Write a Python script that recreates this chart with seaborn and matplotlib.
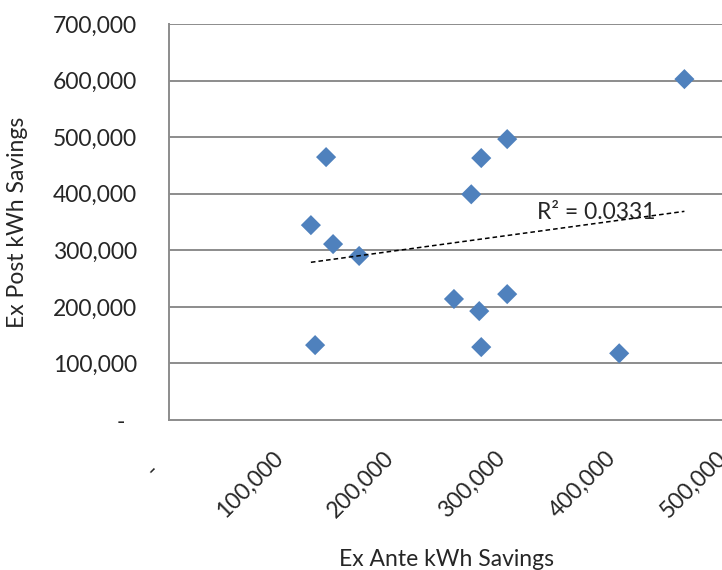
import matplotlib
matplotlib.use("Agg")
import matplotlib.pyplot as plt
import seaborn as sns
import numpy as np
import pandas as pd
from matplotlib.ticker import FuncFormatter

ex_ante = [131800, 128000, 141700, 148000, 171500, 257000, 272600, 279800,
           281600, 281600, 305000, 305000, 406000, 464800]
ex_post = [132500, 344500, 464700, 311000, 290000, 214000, 399000, 192600,
           463000, 129000, 496500, 222600, 118000, 602500]
x_ticks = [0, 100000, 200000, 300000, 400000, 500000]
y_ticks = [0, 100000, 200000, 300000, 400000, 500000, 600000, 700000]
r2_text = "R² = 0.0331"

df = pd.DataFrame({"Ex Ante kWh Savings": ex_ante, "Ex Post kWh Savings": ex_post})

sns.set_style("white")
plt.rcParams['font.family'] = ['Lato', 'DejaVu Sans']

fig = plt.figure(figsize=(7.22, 5.70), dpi=100)
ax = fig.add_axes([0.234, 0.263, 0.768, 0.695])

for yv in y_ticks[1:]:
    ax.axhline(yv, color="#8c8c8c", lw=1.4, zorder=0)

sns.scatterplot(data=df, x="Ex Ante kWh Savings", y="Ex Post kWh Savings", ax=ax,
                marker="D", s=105, color="#4F81BD", edgecolor="none", zorder=3)

coef = np.polyfit(ex_ante, ex_post, 1)
xs = np.array([min(ex_ante), max(ex_ante)])
ax.plot(xs, np.polyval(coef, xs), color="black", lw=1.1, ls=(0, (3, 2)), zorder=4)
ax.text(332000, 367000, r2_text, fontsize=16.5, va="center", ha="left", zorder=5)

ax.set_xlim(0, 500000)
ax.set_ylim(0, 700000)
ax.set_xticks(x_ticks)
ax.set_yticks(y_ticks)

def fmt_y(v, pos):
    if v == 0:
        return "-  "
    return f"{int(v):,}"

def fmt_x(v, pos):
    if v == 0:
        return "-   "
    return f"{int(v):,}"

ax.xaxis.set_major_formatter(FuncFormatter(fmt_x))
ax.yaxis.set_major_formatter(FuncFormatter(fmt_y))
ax.tick_params(axis="y", length=0, pad=23, labelsize=16.5)
ax.tick_params(axis="x", length=0, pad=25, labelsize=16.5)
for lbl in ax.get_xticklabels():
    lbl.set_rotation(45)
    lbl.set_ha("right")
    lbl.set_va("center")
    lbl.set_rotation_mode("anchor")

for s in ["top", "right"]:
    ax.spines[s].set_visible(False)
for s in ["left", "bottom"]:
    ax.spines[s].set_color("#8c8c8c")
    ax.spines[s].set_linewidth(1.4)

ax.set_xlabel("Ex Ante kWh Savings", fontsize=16.5, labelpad=20)
ax.set_ylabel("Ex Post kWh Savings", fontsize=16.5, labelpad=18)

fig.savefig("out.png", dpi=100)
